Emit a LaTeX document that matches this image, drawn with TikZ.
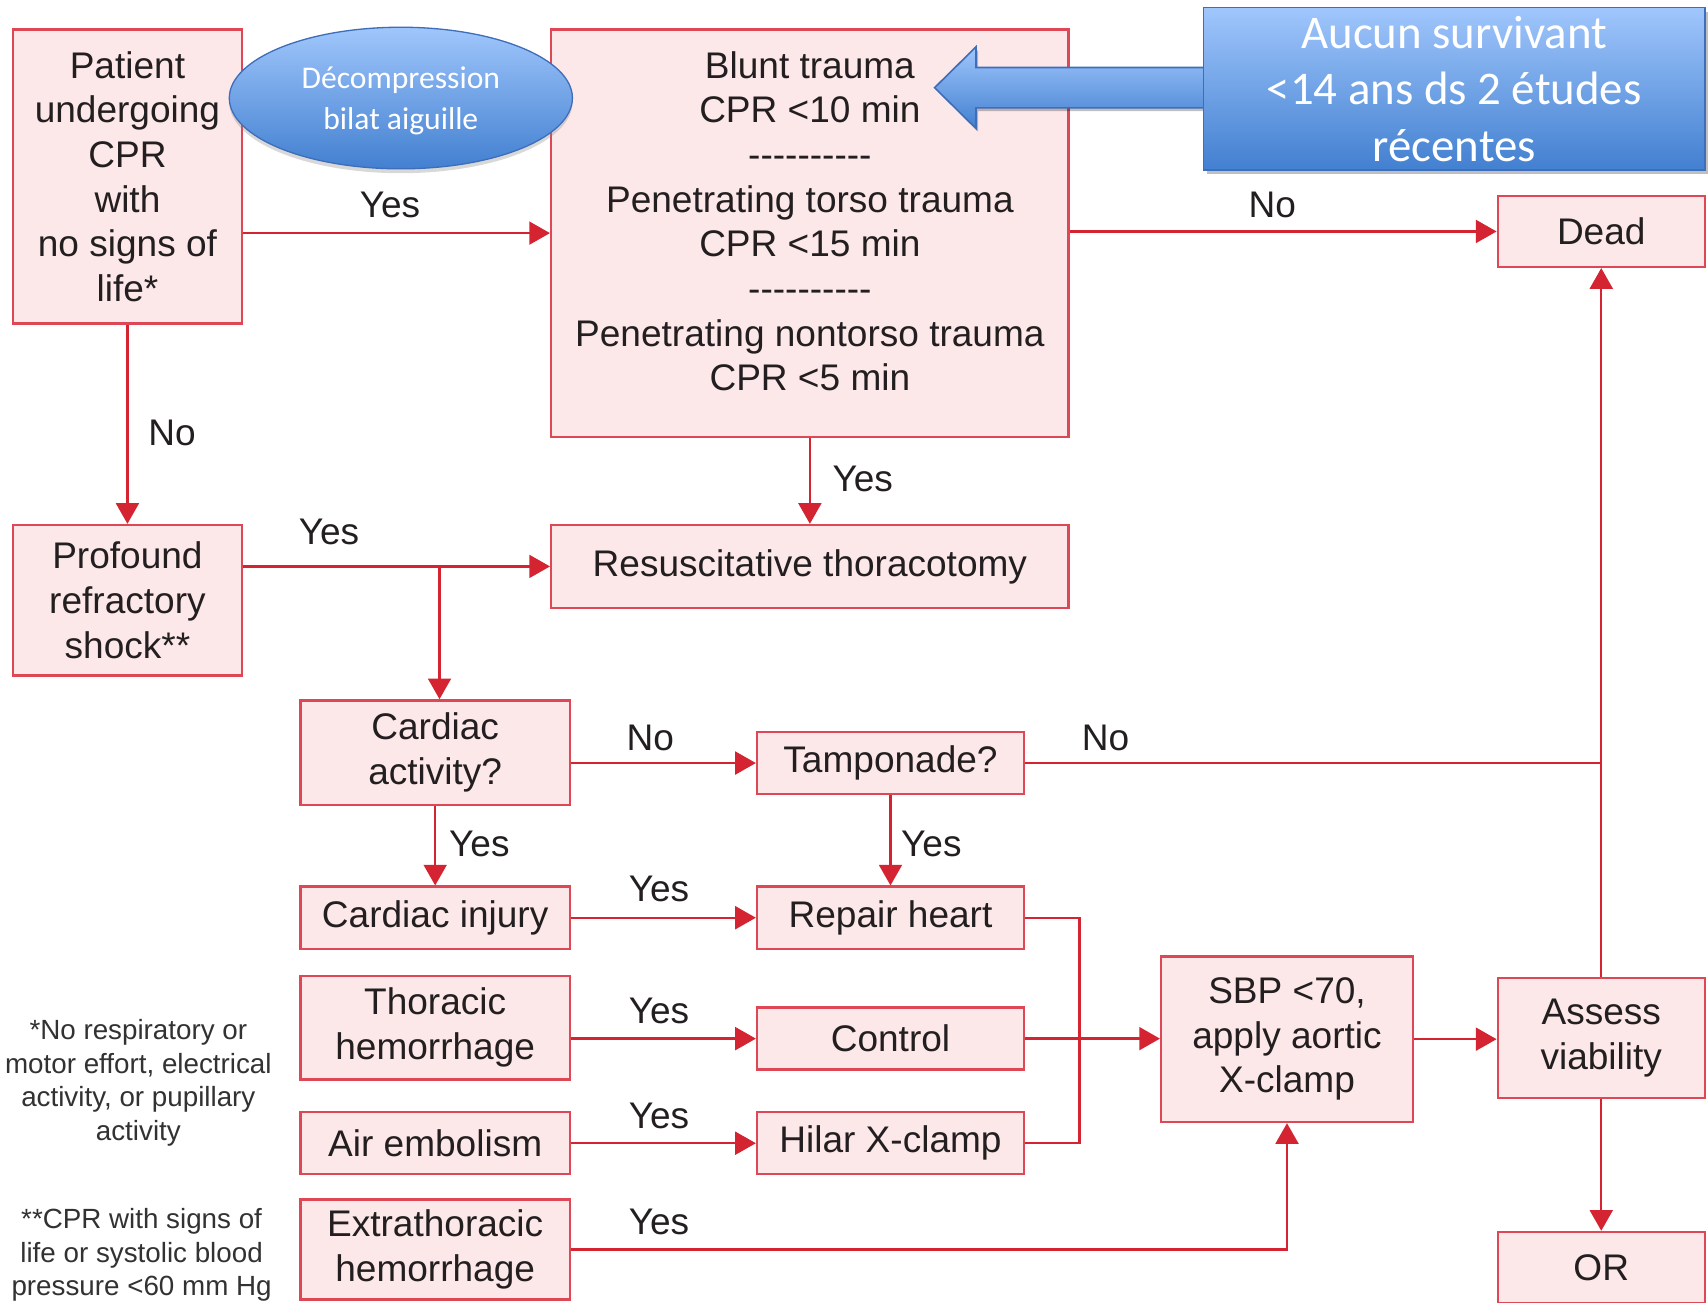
\documentclass[tikz,border=0pt]{standalone}
\usepackage{fontspec}
\setmainfont{Liberation Sans}
\newfontfamily\calib{Carlito}
\usetikzlibrary{arrows.meta,shapes.geometric,shadows}
\definecolor{boxfill}{RGB}{253,232,233}
\definecolor{boxred}{RGB}{222,72,86}
\definecolor{arrred}{RGB}{212,36,50}
\definecolor{txtc}{RGB}{35,31,32}
\definecolor{footc}{RGB}{50,50,50}
\definecolor{bluetop}{RGB}{160,198,252}
\definecolor{bluebot}{RGB}{66,128,208}
\definecolor{blueline}{RGB}{62,110,185}
\newcommand\dashrow{\mbox{-}\mbox{-}\mbox{-}\mbox{-}\mbox{-}\mbox{-}\mbox{-}\mbox{-}\mbox{-}\mbox{-}}
\begin{document}
\begin{tikzpicture}[x=1pt,y=-1pt,
  box/.style={draw=boxred, fill=boxfill, line width=2.2pt, inner sep=0pt, align=center, text=txtc, font=\fontsize{34}{41}\selectfont},
  lab/.style={font=\fontsize{34}{41}\selectfont, text=txtc, inner sep=0pt, align=center},
  foot/.style={font=\fontsize{25.5}{31}\selectfont, text=footc, inner sep=0pt, align=center},
  arr/.style={draw=arrred, line width=2.2pt, -{Triangle[length=19pt,width=21pt]}},
  ln/.style={draw=arrred, line width=2.2pt},
  bluefill/.style={draw=blueline, line width=1.5pt, top color=bluetop, bottom color=bluebot}
]
\useasboundingbox (0,0) rectangle (1568,1196);
\fill[white] (0,0) rectangle (1568,1196);

% boxes
\node[box, minimum width=210, minimum height=270] (patient) at (117,162) {Patient\\undergoing\\CPR\\with\\no signs of\\life*};
\node[box, minimum width=475, minimum height=374] (blunt) at (743.5,214) {};
\node[lab] (bluntt) at (743.5,203) {Blunt trauma\\CPR <10 min\\\dashrow\\Penetrating torso trauma\\CPR <15 min\\\dashrow\\Penetrating nontorso trauma\\CPR <5 min};
\node[box, minimum width=190, minimum height=65] (dead) at (1470,212.5) {Dead};
\node[box, minimum width=475, minimum height=76] (resusc) at (743.5,520) {Resuscitative thoracotomy};
\node[box, minimum width=210, minimum height=138] (profound) at (117,551) {Profound\\refractory\\shock**};
\node[box, minimum width=247, minimum height=96] (cardact) at (399.5,691) {Cardiac\\activity?};
\node[box, minimum width=245, minimum height=57] (tamp) at (817.5,700.5) {Tamponade?};
\node[box, minimum width=247, minimum height=57] (cardinj) at (399.5,842.5) {Cardiac injury};
\node[box, minimum width=245, minimum height=57] (repair) at (817.5,842.5) {Repair heart};
\node[box, minimum width=247, minimum height=95] (thor) at (399.5,943.5) {Thoracic\\hemorrhage};
\node[box, minimum width=245, minimum height=57] (control) at (817.5,953.5) {Control};
\node[box, minimum width=247, minimum height=57] (air) at (399.5,1049.5) {Air embolism};
\node[box, minimum width=245, minimum height=57] (hilar) at (817.5,1049.5) {Hilar X-clamp};
\node[box, minimum width=247, minimum height=92] (extra) at (399.5,1147) {Extrathoracic\\hemorrhage};
\node[box, minimum width=231, minimum height=152] (sbp) at (1181.5,954) {SBP <70,\\apply aortic\\X-clamp};
\node[box, minimum width=190, minimum height=110] (assess) at (1470,953) {Assess\\viability};
\node[box, minimum width=190, minimum height=65] (or) at (1470,1163.5) {OR};

% footnotes
\node[foot] (fn1) at (127,994) {*No respiratory or\\motor effort, electrical\\activity, or pupillary\\activity};
\node[foot] (fn2) at (130,1152) {**CPR with signs of\\life or systolic blood\\pressure <60 mm Hg};

% connectors
\draw[arr] (patient.east |- blunt.west) -- (blunt.west);
\draw[arr] (blunt.east |- dead.west) -- (dead.west);
\draw[arr] (blunt.south) -- (resusc.north);
\draw[arr] (patient.south) -- (profound.north);
\draw[arr] (profound.east |- resusc.west) -- (resusc.west);
\coordinate (br) at ([xshift=4pt]cardact.north |- resusc.west);
\draw[arr] (br) -- (br |- cardact.north);
\draw[arr] (cardact.east |- tamp.west) -- (tamp.west);
\coordinate (jn) at (assess.north |- tamp.east);
\draw[ln] (tamp.east) -- (jn);
\draw[arr] (assess.north) -- (dead.south);
\draw[arr] (cardact.south) -- (cardinj.north);
\draw[arr] (tamp.south) -- (repair.north);
\draw[arr] (cardinj.east) -- (repair.west);
\draw[arr] (thor.east |- control.west) -- (control.west);
\draw[arr] (air.east) -- (hilar.west);
\draw[arr] (extra.east) -| (sbp.south);
\draw[arr] (control.east) -- (sbp.west |- control.east);
\coordinate (mg) at ([xshift=50pt]repair.east);
\draw[ln] (repair.east) -- (mg) |- (hilar.east);
\draw[arr] (sbp.east) -- (assess.west |- sbp.east);
\draw[arr] (assess.south) -- (or.north);

% labels
\node[lab] (l1) at (358,188) {Yes};
\node[lab] (l2) at (1168,188) {No};
\node[lab] (l3) at (792,440) {Yes};
\node[lab] (l4) at (158,397) {No};
\node[lab] (l5) at (302,488) {Yes};
\node[lab] (l6) at (597,677) {No};
\node[lab] (l7) at (1015,677) {No};
\node[lab] (l8) at (440,775) {Yes};
\node[lab] (l9) at (855,775) {Yes};
\node[lab] (l10) at (605,816) {Yes};
\node[lab] (l11) at (605,928) {Yes};
\node[lab] (l12) at (605,1024) {Yes};
\node[lab] (l13) at (605,1122) {Yes};

% blue ellipse
\node[ellipse, draw=blueline, line width=1.2pt, top color=bluetop, bottom color=bluebot,
  minimum width=315, minimum height=130, inner sep=0pt, align=center, text=white,
  font=\calib\fontsize{29}{37}\selectfont, text depth=0pt,
  drop shadow={shadow xshift=0pt, shadow yshift=-4pt, opacity=0.3}] (decomp) at (368,90) {D\'ecompression\\bilat aiguille};

% blue callout arrow and box
\fill[black, opacity=0.25] (1112,65) -- (898,65) -- (898,46) -- (861,83.5) -- (898,121) -- (898,102) -- (1112,102) -- cycle;
\shadedraw[bluefill] (1110,62) -- (896,62) -- (896,43) -- (858,80.5) -- (896,118) -- (896,99) -- (1110,99) -- cycle;
\fill[black, opacity=0.25] (1108,11) rectangle (1568,160);
\shadedraw[bluefill] (1105,7) rectangle (1565,156);
\node[font=\calib\fontsize{43}{52}\selectfont, text=white, align=center, inner sep=0pt] (aucun) at (1335,81.5) {Aucun survivant\\<14 ans ds 2 \'etudes\\r\'ecentes};
\end{tikzpicture}
\end{document}
